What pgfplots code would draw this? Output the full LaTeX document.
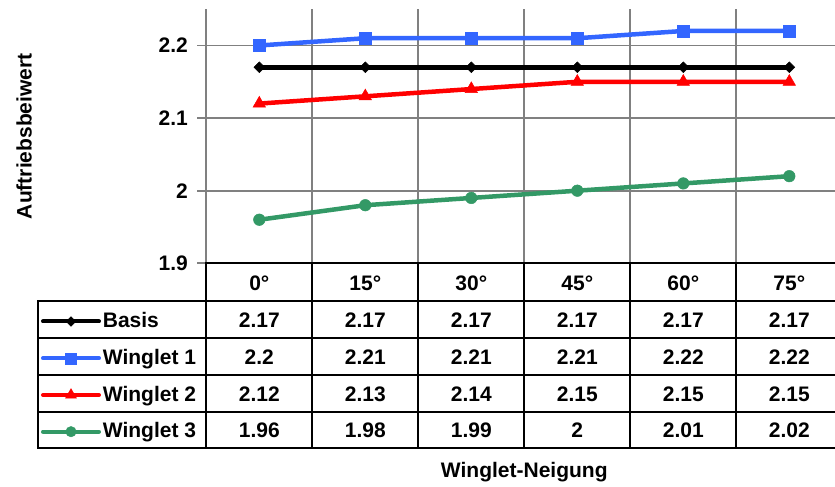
\documentclass[border=0pt]{standalone}
\usepackage{pgfplots}
\pgfplotsset{compat=1.18}
\usepackage{pgfplotstable}
\usepackage{fontspec}
\setmainfont{Liberation Sans}
\definecolor{cBlue}{HTML}{3366FF}
\definecolor{cRed}{HTML}{FF0000}
\definecolor{cGreen}{HTML}{339966}
\definecolor{cGrid}{HTML}{808080}
\newcommand\tf{\fontsize{21}{25}\selectfont\bfseries}

\pgfplotstableread{
x deg basis w1 w2 w3
0 0 2.17 2.2 2.12 1.96
1 15 2.17 2.21 2.13 1.98
2 30 2.17 2.21 2.14 1.99
3 45 2.17 2.21 2.15 2
4 60 2.17 2.22 2.15 2.01
5 75 2.17 2.22 2.15 2.02
}\data

\begin{document}
\begin{tikzpicture}
\path[use as bounding box] (0pt,0pt) rectangle (835pt,487pt);
\clip (0pt,0pt) rectangle (835pt,487pt);
\begin{axis}[
 at={(206.3pt,223.7pt)}, anchor=south west, scale only axis,
 width=636pt, height=254.1pt,
 xmin=-0.5, xmax=5.5, ymin=1.9, ymax=2.25,
 xtick={0.5,1.5,2.5,3.5,4.5,5.5}, xticklabels={},
 ytick={1.9,2,2.1,2.2},
 xmajorgrids, ymajorgrids,
 major grid style={cGrid, line width=1.8pt},
 axis line style={draw=none},
 xtick style={draw=none},
 ytick style={cGrid, line width=1.8pt},
 tick align=outside, major tick length=9pt,
 /pgf/number format/assume math mode=true,
 yticklabel style={font=\tf, inner sep=0pt, xshift=-9.3pt},
 ylabel={Auftriebsbeiwert},
 ylabel style={font=\tf, at={(axis description cs:-0.2745,0.5)}, anchor=base},
 clip=false,
]
\draw[cGrid, line width=1.8pt] (axis cs:-0.5,1.9) -- (axis cs:-0.5,2.25);
\addplot[black, line width=4.5pt, mark=square*, mark size=3.8pt, mark options={line width=0.5pt, rotate=45}] table[x=x,y=basis]{\data};
\addplot[cBlue, line width=4.5pt, mark=square*, mark size=6pt, mark options={line width=0.5pt}] table[x=x,y=w1]{\data};
\addplot[cRed, line width=4.5pt, mark=triangle*, mark size=7.2pt, mark options={line width=0.5pt}] table[x=x,y=w2]{\data};
\addplot[cGreen, line width=4.5pt, mark=*, mark size=5.8pt, mark options={line width=0.5pt}] table[x=x,y=w3]{\data};
\end{axis}

\begin{axis}[
 at={(206.3pt,38.5pt)}, anchor=south west, scale only axis,
 width=636pt, height=185.2pt,
 xmin=-0.5, xmax=5.5, ymin=38.5, ymax=223.7,
 hide axis, clip=false,
 every node near coord/.append style={font=\tf, anchor=base, inner sep=0pt, text=black},
]
% borders
\draw[line width=2pt, line cap=rect] (axis cs:-0.5,223.7) -- (axis cs:5.6,223.7);
\pgfplotsinvokeforeach{185.5,148.5,111.5,74.5,38.5}{
  \draw[line width=2pt, line cap=rect] (axis cs:-2.0906,#1) -- (axis cs:5.6,#1);
}
\pgfplotsinvokeforeach{-0.5,0.5,1.5,2.5,3.5,4.5,5.5}{
  \draw[line width=2pt, line cap=rect] (axis cs:#1,38.5) -- (axis cs:#1,223.7);
}
\draw[line width=2pt, line cap=rect] (axis cs:-2.0906,38.5) -- (axis cs:-2.0906,185.5);

% header
\addplot[draw=none, mark=none, nodes near coords={\pgfplotspointmeta°}, point meta=explicit symbolic] table[x=x, y expr=196.8, meta=deg]{\data};
% values
\addplot[draw=none, mark=none, nodes near coords, point meta=explicit symbolic] table[x=x, y expr=159, meta=basis]{\data};
\addplot[draw=none, mark=none, nodes near coords, point meta=explicit symbolic] table[x=x, y expr=122, meta=w1]{\data};
\addplot[draw=none, mark=none, nodes near coords, point meta=explicit symbolic] table[x=x, y expr=85, meta=w2]{\data};
\addplot[draw=none, mark=none, nodes near coords, point meta=explicit symbolic] table[x=x, y expr=49, meta=w3]{\data};

% legend keys
\addplot[black, line width=4pt, line cap=round, mark=square*, mark size=3.4pt, mark indices={2}, mark options={line width=0.5pt, rotate=45}] coordinates {(-2.0406,165.5) (-1.7764,165.5) (-1.5123,165.5)};
\addplot[cBlue, line width=4pt, line cap=round, mark=square*, mark size=5.5pt, mark indices={2}, mark options={line width=0.5pt}] coordinates {(-2.0406,128.7) (-1.7764,128.7) (-1.5123,128.7)};
\addplot[cRed, line width=4pt, line cap=round, mark=triangle*, mark size=6.3pt, mark indices={2}, mark options={line width=0.5pt}] coordinates {(-2.0406,92) (-1.7764,92) (-1.5123,92)};
\addplot[cGreen, line width=4pt, line cap=round, mark=*, mark size=5.2pt, mark indices={2}, mark options={line width=0.5pt}] coordinates {(-2.0406,55.3) (-1.7764,55.3) (-1.5123,55.3)};

\node[anchor=base west, inner sep=0pt, font=\tf] at (axis cs:-1.4774,159) {Basis};
\node[anchor=base west, inner sep=0pt, font=\tf] at (axis cs:-1.4774,122) {Winglet 1};
\node[anchor=base west, inner sep=0pt, font=\tf] at (axis cs:-1.4774,85) {Winglet 2};
\node[anchor=base west, inner sep=0pt, font=\tf] at (axis cs:-1.4774,49) {Winglet 3};

\node[anchor=base, inner sep=0pt, font=\tf] at (axis cs:2.5,10) {Winglet-Neigung};
\end{axis}
\end{tikzpicture}
\end{document}
